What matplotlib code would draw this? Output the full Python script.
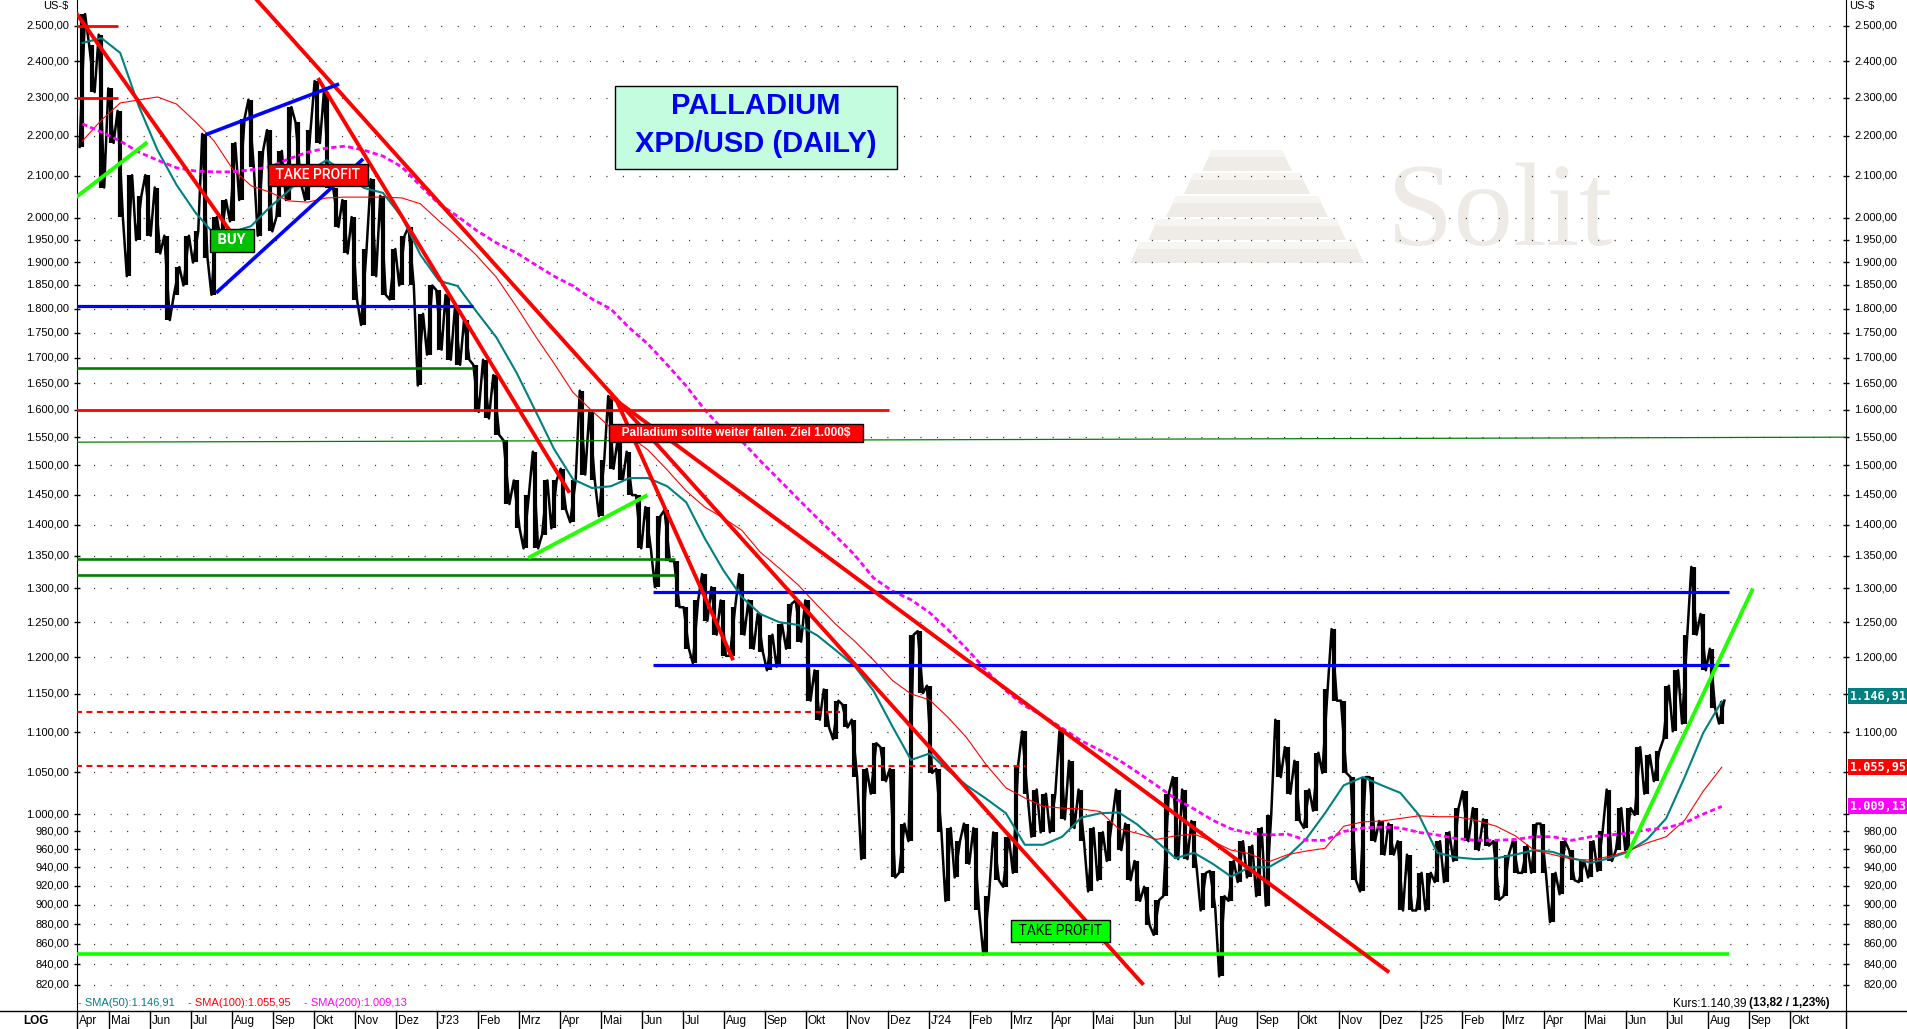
import numpy as np
import pandas as pd
import matplotlib
matplotlib.use("Agg")
from matplotlib import pyplot as plt
from matplotlib.patches import Rectangle, Polygon
from matplotlib.lines import Line2D
from matplotlib.ticker import NullLocator
from matplotlib.transforms import blended_transform_factory

plt.rcParams['font.family'] = ['Liberation Sans', 'DejaVu Sans']
plt.rcParams['lines.scale_dashes'] = False

# weekly bars (high / low), first week starts 2022-04-08
week_high = [2535, 2445, 2475, 2325, 2265, 2102, 2052, 2102, 2072, 1959,
             1889, 1959, 1969, 2205, 2002, 2042, 2182, 2245, 2295, 2162,
             2215, 2162, 2275, 2235, 2215, 2345, 2315, 2072, 2042, 2002,
             1929, 2092, 2052, 1929, 1959, 1979, 1789, 1849, 1839, 1829,
             1799, 1776, 1686, 1696, 1666, 1544, 1474, 1449, 1524, 1474,
             1474, 1494, 1474, 1636, 1596, 1509, 1626, 1544, 1524, 1449,
             1429, 1414, 1424, 1342, 1272, 1282, 1322, 1302, 1282, 1272,
             1322, 1282, 1262, 1232, 1247, 1277, 1282, 1282, 1182, 1156,
             1141, 1136, 1116, 1054, 1086, 1081, 1054, 989, 1232, 1237,
             1161, 1054, 984, 969, 989, 984, 909, 979, 974, 1059,
             1101, 1029, 1024, 1024, 1101, 1064, 1029, 984, 979, 992,
             1029, 989, 947, 919, 905, 1024, 1044, 1029, 992, 934,
             936, 909, 947, 969, 964, 984, 999, 1116, 1081, 1064,
             1029, 1074, 1156, 1240, 1141, 1044, 1044, 1044, 992, 989,
             969, 954, 934, 934, 969, 979, 1007, 1027, 1007, 994,
             969, 954, 969, 964, 989, 989, 934, 969, 959, 947,
             969, 981, 1029, 1007, 1007, 1081, 1071, 1076, 1161, 1182,
             1232, 1333, 1262, 1212, 1141]
week_low = [2172, 2315, 2072, 2182, 2002, 1869, 1949, 1959, 1919, 1776,
            1829, 1849, 1899, 1909, 1829, 1949, 1992, 2042, 2122, 1959,
            1969, 2002, 2042, 2082, 2042, 2182, 2072, 1979, 1919, 1819,
            1766, 1869, 1829, 1819, 1849, 1849, 1646, 1706, 1716, 1696,
            1686, 1696, 1596, 1584, 1554, 1434, 1394, 1362, 1362, 1384,
            1394, 1424, 1404, 1484, 1474, 1414, 1494, 1474, 1449, 1362,
            1362, 1302, 1342, 1272, 1212, 1192, 1252, 1232, 1202, 1202,
            1232, 1212, 1207, 1182, 1187, 1212, 1222, 1141, 1116, 1106,
            1091, 1106, 1044, 949, 1024, 1039, 929, 934, 969, 1151,
            1049, 979, 904, 929, 944, 894, 849, 926, 919, 934,
            1024, 974, 979, 979, 994, 984, 969, 914, 926, 947,
            959, 926, 904, 879, 869, 909, 949, 949, 939, 894,
            897, 828, 904, 924, 929, 909, 899, 1044, 1024, 992,
            984, 1004, 1049, 1141, 1049, 926, 914, 969, 954, 954,
            894, 894, 894, 894, 924, 924, 947, 969, 959, 964,
            905, 909, 934, 934, 934, 934, 882, 911, 926, 924,
            929, 936, 947, 959, 959, 999, 1024, 1039, 1091, 1101,
            1111, 1232, 1182, 1131, 1111]

# moving averages, one value every second week
sma50 = [2451, 2465, 2423, 2278, 2164, 2078, 2012, 1963, 1968, 1981,
         2025, 2064, 2110, 2139, 2110, 2071, 2059, 2002, 1916, 1859,
         1848, 1795, 1741, 1670, 1598, 1529, 1476, 1461, 1464, 1478,
         1478, 1464, 1437, 1378, 1328, 1287, 1262, 1250, 1246, 1231,
         1210, 1188, 1154, 1107, 1065, 1073, 1052, 1034, 1018, 1001,
         965, 965, 974, 996, 1001, 1002, 988, 969, 950, 956,
         944, 930, 940, 940, 952, 972, 1001, 1034, 1044, 1034,
         1025, 999, 956, 951, 949, 950, 954, 959, 957, 950,
         945, 950, 957, 971, 995, 1044, 1099, 1140]
sma100 = [2187, 2241, 2286, 2294, 2302, 2283, 2236, 2187, 2117, 2076,
          2061, 2040, 2037, 2047, 2049, 2049, 2049, 2047, 2033, 1993,
          1956, 1916, 1867, 1803, 1743, 1689, 1633, 1598, 1567, 1552,
          1527, 1492, 1456, 1429, 1411, 1391, 1356, 1331, 1305, 1275,
          1247, 1223, 1196, 1168, 1150, 1142, 1119, 1093, 1059, 1031,
          1019, 1009, 1007, 1006, 1003, 983, 978, 971, 975, 977,
          969, 959, 955, 946, 954, 958, 961, 986, 991, 992,
          995, 998, 997, 997, 993, 986, 975, 959, 954, 949,
          948, 952, 958, 967, 974, 993, 1027, 1056]
sma200 = [2231, 2210, 2187, 2159, 2139, 2120, 2112, 2110, 2110, 2115,
          2122, 2142, 2159, 2169, 2174, 2164, 2149, 2122, 2076, 2033,
          2004, 1972, 1943, 1920, 1894, 1869, 1848, 1820, 1799, 1760,
          1727, 1686, 1645, 1600, 1563, 1543, 1508, 1475, 1442, 1411,
          1382, 1352, 1316, 1296, 1283, 1264, 1239, 1212, 1182, 1154,
          1134, 1121, 1105, 1089, 1077, 1065, 1050, 1034, 1018, 1006,
          993, 983, 978, 976, 977, 970, 970, 980, 984, 985,
          984, 979, 976, 972, 970, 970, 971, 974, 974, 970,
          974, 976, 978, 982, 984, 990, 1000, 1009]
sma_last = [1146.91, 1055.95, 1009.13]
last_price = 1140.39
change = 13.82
change_pct = 1.23

# horizontal levels: (price, from, to)
red_levels = [(2500, "2022-04-07", "2022-05-08"), (2300, "2022-04-07", "2022-05-08"),
              (1600, "2022-04-07", "2023-12-02")]
red_dashed_levels = [(1126, "2022-04-07", "2023-10-27"), (1057, "2022-04-07", "2024-03-12")]
blue_levels = [(1805, "2022-04-07", "2023-01-28"), (1295, "2023-06-09", "2025-08-17"),
               (1189, "2023-06-09", "2025-08-17")]
green_levels = [(1680, "2022-04-07", "2023-01-28"), (1345, "2022-04-07", "2023-06-25"),
                (1320, "2022-04-07", "2023-06-25")]
lime_levels = [(850, "2022-04-07", "2025-08-17")]

# trend lines: (from, price, to, price)
red_lines = [("2022-04-07", 2538, "2022-07-30", 1972),
             ("2022-08-13", 2607, "2024-06-08", 820),
             ("2022-10-04", 2353, "2023-04-08", 1453),
             ("2023-05-08", 1626, "2024-12-08", 832),
             ("2023-05-12", 1622, "2023-08-08", 1196)]
blue_lines = [("2022-07-12", 2203, "2022-10-20", 2337),
              ("2022-07-20", 1833, "2022-11-07", 2142)]
lime_lines = [("2022-04-07", 2049, "2022-05-30", 2184),
              ("2023-03-08", 1347, "2023-06-05", 1449),
              ("2025-06-01", 950, "2025-09-04", 1300)]
thin_green_lines = [("2022-04-07", 1541, "2025-11-12", 1550)]

y_ticks = [2500, 2400, 2300, 2200, 2100, 2000, 1950, 1900, 1850, 1800, 1750, 1700,
           1650, 1600, 1550, 1500, 1450, 1400, 1350, 1300, 1250, 1200, 1150, 1100,
           1050, 1000, 980, 960, 940, 920, 900, 880, 860, 840, 820]
month_names = ["Apr", "Mai", "Jun", "Jul", "Aug", "Sep", "Okt", "Nov", "Dez", "J'23",
               "Feb", "Mrz", "Apr", "Mai", "Jun", "Jul", "Aug", "Sep", "Okt", "Nov", "Dez",
               "J'24", "Feb", "Mrz", "Apr", "Mai", "Jun", "Jul", "Aug", "Sep", "Okt", "Nov",
               "Dez", "J'25", "Feb", "Mrz", "Apr", "Mai", "Jun", "Jul", "Aug", "Sep", "Okt"]


def mpos(d):
    # months since 2022-04-01
    d = pd.Timestamp(d)
    frac = d.day - 1 + (d.hour * 3600 + d.minute * 60 + d.second) / 86400
    return (d.year - 2022) * 12 + d.month - 4 + frac / d.days_in_month


def de(v):
    s = f"{v:,.2f}"
    return s.replace(",", "X").replace(".", ",").replace("X", ".")


W, H = 1908, 1029
fig = plt.figure(figsize=(W / 100, H / 100), dpi=100)
ax = fig.add_axes([77 / W, 1 - 1011 / H, (1846 - 77) / W, 1011 / H])
ax.set_yscale('log')
ax.set_xlim(0.22, 43.37)
ax.set_ylim(795.4, 2576.7)
ax.set_xticks([])
ax.set_yticks(y_ticks)
ax.yaxis.set_minor_locator(NullLocator())
ax.tick_params(axis='y', direction='inout', length=5, width=1, left=True, right=True,
               labelleft=False, labelright=False)
for s in ['top', 'bottom']:
    ax.spines[s].set_visible(False)

ftr = blended_transform_factory(fig.transFigure, ax.transData)
atr = blended_transform_factory(ax.transAxes, ax.transData)
fig_t = fig.transFigure

# dotted grid rows and axis labels (right labels under the value boxes are hidden)
for v in y_ticks:
    ax.axhline(v, color='#303030', lw=0.9, dashes=(0.8, 11.1), zorder=1)
    ax.text(69 / W, v, de(v), transform=ftr, ha='right', va='center', fontsize=8, clip_on=False)
    if v not in (1150, 1050, 1000):
        ax.text(1897 / W, v, de(v), transform=ftr, ha='right', va='center', fontsize=8,
                clip_on=False)

# watermark
cx = 1247
for k in range(5):
    yt = 150 + k * 23
    yb = yt + 21
    ht, hb = 35 + 18 * k, 45 + 18 * k
    pts = [((cx - ht) / W, 1 - yt / H), ((cx + ht) / W, 1 - yt / H),
           ((cx + hb) / W, 1 - yb / H), ((cx - hb) / W, 1 - yb / H)]
    ax.add_patch(Polygon(pts, closed=True, transform=fig_t, fc='#EFECE7', ec='none', zorder=0.5))
    pts2 = [((cx - ht) / W, 1 - yt / H), ((cx + ht) / W, 1 - yt / H),
            ((cx + ht + 4) / W, 1 - (yt + 7) / H), ((cx - ht - 4) / W, 1 - (yt + 7) / H)]
    ax.add_patch(Polygon(pts2, closed=True, transform=fig_t, fc='#F7F5F2', ec='none', zorder=0.6))
ax.text(1387 / W, 1 - 245 / H, "Solit", transform=fig_t, family=['Liberation Serif', 'DejaVu Serif'],
        fontsize=86, color='#EEEAE6', ha='left', va='baseline', zorder=0.7)

# price bars
week_start = pd.date_range("2022-04-08", periods=len(week_high), freq="7D")
n = len(week_high)
xs, ys, xc = [], [], []
for i in range(n):
    a = mpos(week_start[i] + pd.Timedelta(days=1.5))
    b = mpos(week_start[i] + pd.Timedelta(days=5.5))
    xc.append(mpos(week_start[i] + pd.Timedelta(days=3.5)))
    mid = (week_high[i] + week_low[i]) / 2
    nxt = (week_high[i + 1] + week_low[i + 1]) / 2 if i < n - 1 else mid
    if nxt >= mid:
        ys += [week_low[i], week_high[i]]
    else:
        ys += [week_high[i], week_low[i]]
    xs += [a, b]
ax.plot(xs, ys, color='black', lw=1.8, zorder=3)
ax.vlines(xc, week_low, week_high, color='black', lw=3.0, zorder=3)

# moving averages
sma_x = [mpos(d + pd.Timedelta(days=3.5)) for d in week_start[::2]]
ax.plot(sma_x, sma50, color='#008080', lw=1.5, zorder=4)
ax.plot(sma_x, sma100, color='#FF0000', lw=0.8, zorder=4)
ax.plot(sma_x, sma200, color='#FF00FF', lw=2.0, dashes=(3.8, 2.3), zorder=4)


def levels(lst, **kw):
    for p, a, b in lst:
        ax.plot([mpos(a), mpos(b)], [p, p], solid_capstyle='butt', **kw)


def lines(lst, **kw):
    for a, pa, b, pb in lst:
        ax.plot([mpos(a), mpos(b)], [pa, pb], solid_capstyle='butt', **kw)


lines(thin_green_lines, color='#008000', lw=0.9, zorder=5)
levels(green_levels, color='#008000', lw=1.9, zorder=5)
levels(red_levels, color='#FF0000', lw=2.0, zorder=5)
levels(red_dashed_levels, color='#FF0000', lw=1.5, dashes=(4.3, 3.2), zorder=5)
levels(blue_levels, color='#0000FF', lw=2.3, zorder=5)
levels(lime_levels, color='#11FF00', lw=2.6, zorder=5)
lines(red_lines, color='#FF0000', lw=2.8, zorder=6)
lines(blue_lines, color='#0000FF', lw=2.6, zorder=6)
lines(lime_lines, color='#22FF00', lw=2.8, zorder=6)


def box_label(txt, d, p, fc, tc, size, weight='bold', family=None, pad=0.3):
    kw = dict(ha='center', va='center', color=tc, fontsize=size, weight=weight, zorder=8,
              bbox=dict(boxstyle=f'square,pad={pad}', fc=fc, ec='black', lw=1))
    if family:
        kw['family'] = family
    ax.text(mpos(d), p, txt, **kw)


box_label(" BUY ", "2022-08-01", 1949, '#00C000', 'white', 10.5, family=['Roboto', 'DejaVu Sans'])
box_label(" TAKE PROFIT ", "2022-10-04", 2102, '#FF0000', 'white', 10, weight='medium',
          family=['Roboto', 'DejaVu Sans'])
box_label("   Palladium sollte weiter fallen. Ziel 1.000$   ", "2023-08-10", 1557, '#FF0000',
          'white', 8.5, pad=0.25)
box_label(" TAKE PROFIT ", "2024-04-07", 873, '#00FF00', 'black', 10, weight='normal',
          family=['Roboto', 'DejaVu Sans'])

# title box
ax.add_patch(Rectangle((615 / W, 1 - 169 / H), 282 / W, 83 / H, transform=fig_t,
                       fc='#C4FCE0', ec='black', lw=1, zorder=9))
ax.text(756 / W, 1 - 106 / H, "PALLADIUM", transform=fig_t, ha='center', va='center',
        fontsize=21, weight='bold', color='#0000EE', zorder=10)
ax.text(756 / W, 1 - 144 / H, "XPD/USD (DAILY)", transform=fig_t, ha='center', va='center',
        fontsize=21, weight='bold', color='#0000EE', zorder=10)

# value boxes on the right axis
for v, c in zip(sma_last, ['#008080', '#FF0000', '#FF00FF']):
    ax.text(1.0181, v, de(v), transform=atr, ha='center', va='center', fontsize=8.5,
            weight='bold', color='white', family='DejaVu Sans Mono', clip_on=False, zorder=9,
            bbox=dict(boxstyle='square,pad=0.12', fc=c, ec='none'))

# bottom row
yb = 1 - 1011 / H
fig.add_artist(Line2D([0, 1], [yb, yb], color='black', lw=1))
fig.add_artist(Line2D([77 / W, 77 / W], [0, yb], color='black', lw=1))
fig.add_artist(Line2D([1846 / W, 1846 / W], [0, yb], color='black', lw=1))
xtr = blended_transform_factory(ax.transData, fig_t)
ax.text(79 / W, 1 - 1021 / H, month_names[0], transform=fig_t, ha='left', va='center', fontsize=8.5)
for m in range(1, len(month_names)):
    ax.add_line(Line2D([m, m], [0, yb], transform=xtr, color='black', lw=1, clip_on=False))
    ax.annotate(month_names[m], (m, 1 - 1021 / H), xycoords=xtr, xytext=(2, 0),
                textcoords='offset pixels', ha='left', va='center', fontsize=8.5,
                annotation_clip=False)
fig.text(36 / W, 1 - 1021 / H, "LOG", ha='center', va='center', fontsize=8.5, weight='bold')
fig.text(43 / W, 1 - 6 / H, "US-$", ha='left', va='center', fontsize=8)
fig.text(1849 / W, 1 - 6 / H, "US-$", ha='left', va='center', fontsize=8)

# legend line and price
yl = 1 - 1003 / H
fig.text(78 / W, yl, "- SMA(50):" + de(sma_last[0]), color='#008080', va='center', fontsize=8)
fig.text(188 / W, yl, "- SMA(100):" + de(sma_last[1]), color='#FF0000', va='center', fontsize=8)
fig.text(304 / W, yl, "- SMA(200):" + de(sma_last[2]), color='#FF00FF', va='center', fontsize=8)
r = fig.canvas.get_renderer()
t2 = fig.text(1830 / W, yl, f"({de(change)} / {de(change_pct)}%)", weight='bold',
              ha='right', va='center', fontsize=8.5)
bb = t2.get_window_extent(renderer=r)
fig.text((bb.x0 - 3) / W, yl, "Kurs:" + de(last_price), ha='right', va='center', fontsize=8.5)

fig.savefig("out.png", dpi=100, facecolor='white')
